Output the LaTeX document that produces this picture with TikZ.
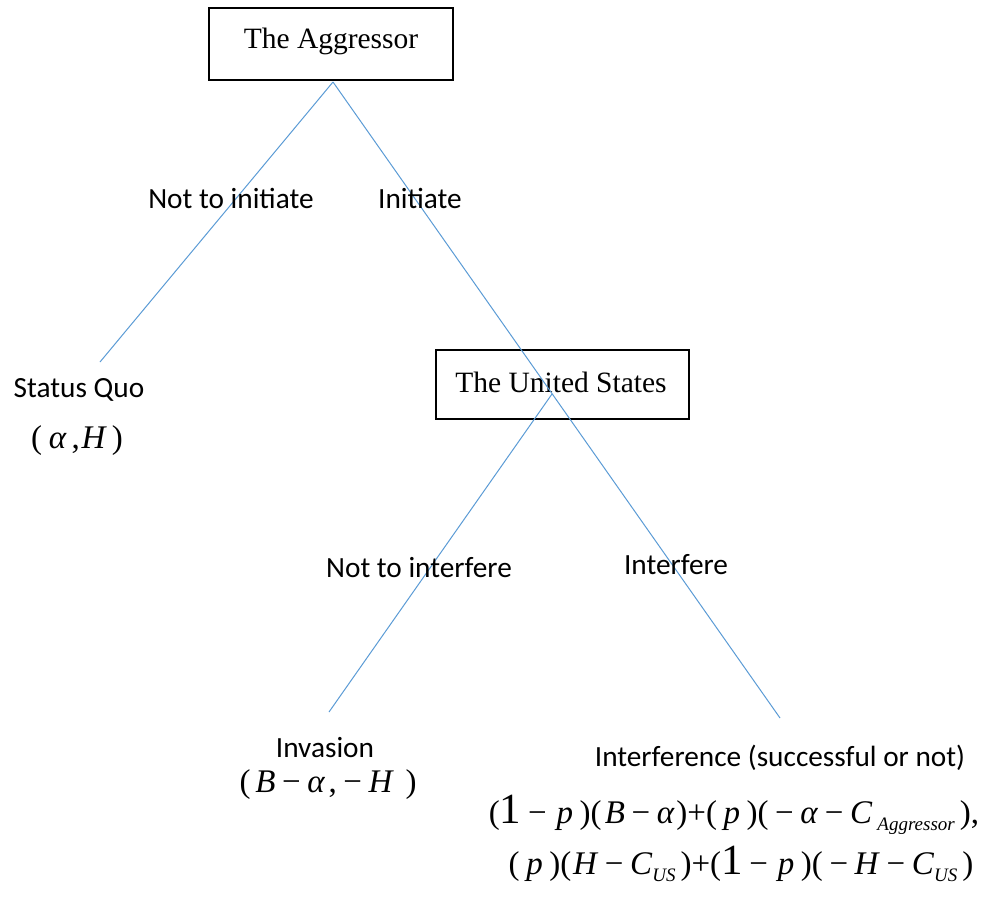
\documentclass[tikz,border=0pt]{standalone}
\usepackage{fontspec}
\setmainfont{Liberation Serif}
\newfontfamily\calib{Carlito}
\definecolor{branchblue}{HTML}{5B9BD5}
\newcommand\mi[1]{\textit{#1}}
\newcommand\mminus{\kern0.2em−\kern0.2em}
\newcommand\bigone{{\fontsize{43}{43}\selectfont 1}}
\newcommand\subx[1]{{\fontsize{19}{19}\selectfont\raisebox{-0.35em}{\mi{#1}}}}
\begin{document}
\begin{tikzpicture}[x=1pt,y=-1pt,
  box/.style={draw=black,line width=2.4pt,inner sep=0pt},
  boxtext/.style={inner sep=0pt,font=\fontsize{29.5}{34}\selectfont},
  branch/.style={draw=branchblue,line width=1pt},
  lbl/.style={inner sep=0pt,font=\calib\fontsize{29.3}{34}\selectfont},
  mth/.style={inner sep=0pt,font=\fontsize{33}{38}\selectfont}]
\useasboundingbox (0,0) rectangle (984,912);
\node[box,minimum width=244pt,minimum height=72pt] (agg) at (331,44) {};
\node[boxtext] (aggt) at (331,41) {The Aggressor};
\node[box,minimum width=253pt,minimum height=69pt] (us) at (562.5,384.5) {};
\node[boxtext] (ust) at (561,382) {The United States};
\coordinate (top) at (333,82);
\coordinate (sq) at (100,362);
\coordinate (intend) at (780,718);
\coordinate (fork) at (552,394);
\coordinate (invend) at (329,712);
\draw[branch] (top) -- (sq);
\draw[branch] (top) -- (intend);
\draw[branch] (fork) -- (invend);
\node[lbl] (l1) at (231,198) {Not to initiate};
\node[lbl] (l2) at (420,198) {Initiate};
\node[lbl] (sqt) at (79,390) {Status Quo};
\node[mth] (sqp) at (77,441) {(\kern0.2em\mi{α}\kern0.15em,\kern0.05em\mi{H}\kern0.15em)};
\node[lbl] (l3) at (419,568) {Not to interfere};
\node[lbl] (l4) at (676,565) {Interfere};
\node[lbl] (invt) at (325,748) {Invasion};
\node[mth] (invp) at (328,785) {(\kern0.15em\mi{B}\mminus\mi{α}\kern0.1em,\mminus\mi{H}\kern0.35em)};
\node[lbl] (intt) at (780,758) {Interference (successful or not)};
\node[mth] (f1) at (734,815) {(\bigone\mminus\kern0.1em\mi{p}\kern0.2em)(\kern0.1em\mi{B}\mminus\mi{α}\kern0.05em)+(\kern0.2em\mi{p}\kern0.2em)(\mminus\mi{α}\mminus\mi{C}\kern0.15em\subx{Aggressor}\kern0.15em),};
\node[mth] (f2) at (741,864) {(\kern0.2em\mi{p}\kern0.2em)(\kern0.05em\mi{H}\mminus\mi{C}\subx{US}\kern0.15em)+(\bigone\mminus\kern0.1em\mi{p}\kern0.2em)(\mminus\mi{H}\mminus\mi{C}\subx{US}\kern0.15em)};
\end{tikzpicture}
\end{document}
